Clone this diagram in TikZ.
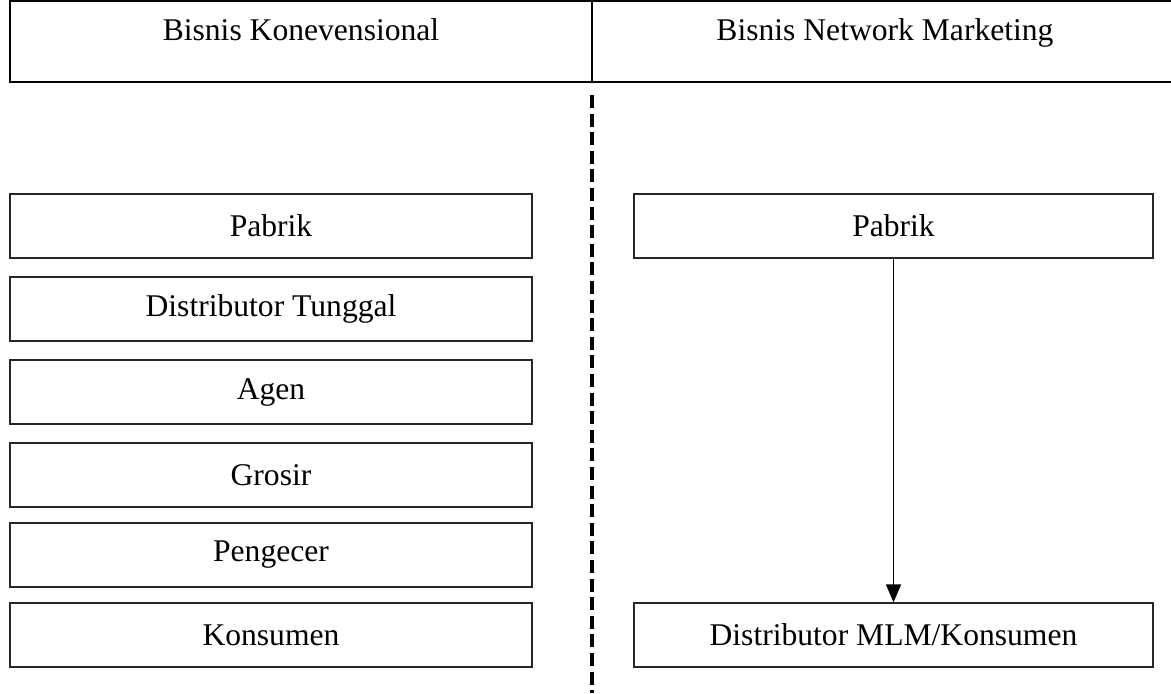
\documentclass[tikz,border=0pt]{standalone}
\usepackage{fontspec}
\setmainfont{Liberation Serif}
\usetikzlibrary{arrows.meta}

\begin{document}
\begin{tikzpicture}
        [x=0.5pt, y=-0.5pt,
        font=\fontsize{15.8}{19}\selectfont,
        box/.style={rectangle, draw=black!85, line width=0.65pt, minimum height=32pt, inner sep=0pt},
        lbox/.style={box, minimum width=261pt},
        rbox/.style={box, minimum width=259.5pt},
        head/.style={rectangle, draw=black, line width=1pt, minimum height=40.5pt, inner sep=0pt},
        arr/.style={-{Triangle[width=7.5pt,length=9pt]}, line width=0.8pt},
        split/.style={line width=2pt, dash pattern=on 6.5pt off 2.8pt}]
        \useasboundingbox (0,0) rectangle (1171,693);
        % header
        \node (hK) at (301,41.5) [head, minimum width=291pt,
           label={[name=tK, anchor=north, yshift=-5.5pt]north:Bisnis Konevensional}] {};
        \node (hN) at (885,41.5) [head, minimum width=293pt,
           label={[name=tN, anchor=north, yshift=-5.5pt]north:Bisnis Network Marketing}] {};
        % pemisah
        \coordinate (st) at (592,95);
        \coordinate (sb) at (592,693);
        \draw[split] (st) -- (sb);
        % konvensional
        \node (pK) at (271,226) [lbox] {Pabrik};
        \node (dT) at (271,309) [lbox] {Distributor Tunggal};
        \node (ag) at (271,392) [lbox] {Agen};
        \node (gr) at (271,475) [lbox] {Grosir};
        \node (pc) at (271,555) [lbox] {Pengecer};
        \node (kK) at (271,635) [lbox] {Konsumen};
        % network marketing
        \node (pN) at (893.5,226) [rbox] {Pabrik};
        \node (dN) at (893.5,635) [rbox] {Distributor MLM/Konsumen};
        \draw[arr] (pN) -- (dN);
\end{tikzpicture}
\end{document}
